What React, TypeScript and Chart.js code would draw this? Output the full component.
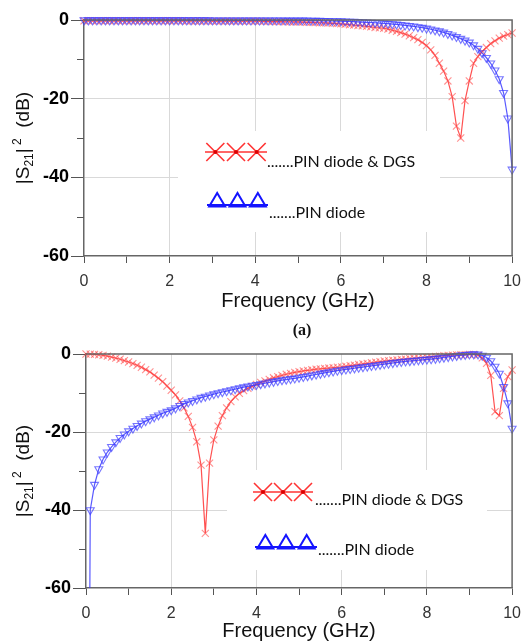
import React, { useEffect, useRef } from 'react';
import { Chart, registerables } from 'chart.js';
Chart.register(...registerables);

// Frequency sweep (GHz)
const FREQ = [
  0.0, 0.1, 0.2, 0.3, 0.4, 0.5, 0.6, 0.7, 0.8, 0.9,
  1.0, 1.1, 1.2, 1.3, 1.4, 1.5, 1.6, 1.7, 1.8, 1.9,
  2.0, 2.1, 2.2, 2.3, 2.4, 2.5, 2.6, 2.7, 2.8, 2.9,
  3.0, 3.1, 3.2, 3.3, 3.4, 3.5, 3.6, 3.7, 3.8, 3.9,
  4.0, 4.1, 4.2, 4.3, 4.4, 4.5, 4.6, 4.7, 4.8, 4.9,
  5.0, 5.1, 5.2, 5.3, 5.4, 5.5, 5.6, 5.7, 5.8, 5.9,
  6.0, 6.1, 6.2, 6.3, 6.4, 6.5, 6.6, 6.7, 6.8, 6.9,
  7.0, 7.1, 7.2, 7.3, 7.4, 7.5, 7.6, 7.7, 7.8, 7.9,
  8.0, 8.1, 8.2, 8.3, 8.4, 8.5, 8.6, 8.7, 8.8, 8.9,
  9.0, 9.1, 9.2, 9.3, 9.4, 9.5, 9.6, 9.7, 9.8, 9.9,
  10.0,
];

// (a) top chart: |S21|^2 (dB)
const TOP_PIN_DGS = [
  -0.2, -0.2, -0.2, -0.2, -0.2, -0.2, -0.2, -0.2, -0.2, -0.2,
  -0.2, -0.2, -0.2, -0.2, -0.2, -0.2, -0.2, -0.2, -0.2, -0.2,
  -0.2, -0.2, -0.2, -0.2, -0.25, -0.25, -0.25, -0.25, -0.25, -0.25,
  -0.3, -0.3, -0.3, -0.3, -0.3, -0.3, -0.3, -0.3, -0.3, -0.3,
  -0.3, -0.3, -0.35, -0.35, -0.4, -0.4, -0.4, -0.45, -0.45, -0.5,
  -0.5, -0.55, -0.6, -0.6, -0.65, -0.7, -0.75, -0.8, -0.85, -0.9,
  -1.0, -1.1, -1.2, -1.3, -1.4, -1.5, -1.6, -1.75, -1.9, -2.0,
  -2.1, -2.3, -2.6, -2.9, -3.2, -3.6, -4.0, -4.5, -5.0, -5.7,
  -6.5, -7.6, -9.0, -11.0, -13.0, -15.5, -19.5, -27.0, -30.0, -20.5,
  -15.5, -11.0, -9.3, -8.0, -7.0, -6.0, -5.3, -4.6, -4.1, -3.7,
  -3.3,
];
const TOP_PIN = [
  -0.05, -0.05, -0.05, -0.05, -0.05, -0.05, -0.05, -0.05, -0.05, -0.05,
  -0.05, -0.05, -0.05, -0.05, -0.05, -0.05, -0.05, -0.05, -0.05, -0.05,
  -0.05, -0.05, -0.05, -0.05, -0.05, -0.05, -0.05, -0.05, -0.05, -0.05,
  -0.06, -0.06, -0.06, -0.06, -0.07, -0.07, -0.07, -0.07, -0.08, -0.08,
  -0.08, -0.08, -0.08, -0.08, -0.09, -0.09, -0.09, -0.1, -0.1, -0.1,
  -0.1, -0.1, -0.12, -0.14, -0.16, -0.18, -0.2, -0.22, -0.25, -0.28,
  -0.3, -0.34, -0.38, -0.42, -0.47, -0.52, -0.58, -0.64, -0.7, -0.78,
  -0.86, -0.94, -1.03, -1.13, -1.24, -1.35, -1.48, -1.62, -1.78, -1.95,
  -2.15, -2.35, -2.6, -2.85, -3.15, -3.5, -3.9, -4.3, -4.75, -5.2,
  -5.7, -6.4, -7.3, -8.4, -9.6, -11.0, -12.8, -15.0, -18.5, -25.0,
  -38.0,
];

// bottom chart: |S21|^2 (dB)
const BOT_PIN_DGS = [
  0.0, -0.05, -0.1, -0.2, -0.35, -0.55, -0.8, -1.05, -1.35, -1.7,
  -2.05, -2.45, -2.9, -3.4, -4.0, -4.6, -5.4, -6.2, -7.1, -8.2,
  -9.3, -10.5, -12.0, -13.8, -16.0, -18.8, -22.5, -28.5, -46.0, -28.0,
  -22.0, -18.5, -15.8, -13.8, -12.2, -11.0, -10.1, -9.4, -8.8, -8.3,
  -7.8, -7.3, -6.9, -6.5, -6.1, -5.8, -5.5, -5.2, -4.95, -4.7,
  -4.5, -4.35, -4.2, -4.05, -3.9, -3.8, -3.7, -3.6, -3.5, -3.4,
  -3.3, -3.15, -3.0, -2.85, -2.7, -2.55, -2.4, -2.25, -2.1, -1.95,
  -1.8, -1.7, -1.6, -1.5, -1.4, -1.3, -1.2, -1.1, -1.0, -0.9,
  -0.85, -0.75, -0.65, -0.55, -0.45, -0.35, -0.3, -0.25, -0.2, -0.15,
  -0.1, -0.1, -0.3, -1.0, -2.4, -5.5, -14.8, -15.8, -8.8, -5.8,
  -4.1,
];
const BOT_PIN = [
  -250.0, -40.0, -33.5, -29.5, -27.0, -25.2, -23.8, -22.6, -21.5, -20.6,
  -19.8, -19.1, -18.4, -17.8, -17.2, -16.7, -16.2, -15.7, -15.2, -14.8,
  -14.4, -13.9, -13.3, -12.8, -12.4, -12.0, -11.6, -11.2, -10.9, -10.6,
  -10.3, -10.0, -9.75, -9.5, -9.25, -9.0, -8.75, -8.5, -8.3, -8.1,
  -7.9, -7.7, -7.5, -7.3, -7.1, -6.9, -6.7, -6.55, -6.4, -6.25,
  -6.05, -5.85, -5.65, -5.45, -5.25, -5.05, -4.85, -4.65, -4.45, -4.25,
  -4.1, -3.95, -3.8, -3.65, -3.5, -3.35, -3.2, -3.05, -2.9, -2.75,
  -2.6, -2.45, -2.3, -2.15, -2.0, -1.9, -1.8, -1.7, -1.6, -1.5,
  -1.4, -1.3, -1.2, -1.05, -0.9, -0.75, -0.6, -0.45, -0.3, -0.2,
  -0.1, -0.05, -0.1, -0.4, -0.9, -1.8, -3.2, -5.0, -8.4, -12.6,
  -19.1,
];

const X_GRID = [2, 4, 6, 8];
const Y_GRID = [-20, -40];
const Y_MINOR = [-10, -30, -50];
const LABEL_DGS = '.......PIN diode & DGS';
const LABEL_PIN = '.......PIN diode';
const X_TITLE = 'Frequency (GHz)';

const SANS = '"Liberation Sans", Arial, sans-serif';
const LEG_FONT = '16px Lato, "Open Sans", sans-serif';

const RED_LINE = 'rgba(255,50,50,0.85)';
const RED_PT = 'rgba(255,70,70,0.6)';
const BLUE_LINE = 'rgba(60,60,255,0.85)';
const BLUE_PT = 'rgba(60,60,255,0.7)';

type Leg = { x0: number; x1: number; y: number; tx: number; ty: number; text: string };
type Decor = {
  box: [number, number, number, number];
  red: Leg;
  blue: Leg;
  yTitleX: number;
};

const decorPlugin = {
  id: 'decor',
  beforeDatasetsDraw(chart: any, _a: any, opts: Decor) {
    const ctx = chart.ctx;
    const [x1, y1, x2, y2] = opts.box;
    ctx.save();
    ctx.fillStyle = '#ffffff';
    ctx.fillRect(x1, y1, x2 - x1, y2 - y1);
    ctx.restore();
  },
  afterDraw(chart: any, _a: any, opts: Decor) {
    const ctx = chart.ctx;
    const ca = chart.chartArea;
    const ys = chart.scales.y;
    ctx.save();
    ctx.strokeStyle = '#666';
    ctx.lineWidth = 1.5;
    ctx.beginPath();
    ctx.moveTo(ca.left, ca.top);
    ctx.lineTo(ca.right, ca.top);
    ctx.lineTo(ca.right, ca.bottom);
    ctx.stroke();
    ctx.lineWidth = 1;
    ctx.strokeStyle = '#555';
    Y_MINOR.forEach((v) => {
      const py = Math.round(ys.getPixelForValue(v)) + 0.5;
      ctx.beginPath();
      ctx.moveTo(ca.left - 7, py);
      ctx.lineTo(ca.left, py);
      ctx.stroke();
    });
    const big = `19px ${SANS}`;
    const small = `12px ${SANS}`;
    const parts = [
      { t: '|S', f: big, dy: 0 },
      { t: '21', f: small, dy: 4 },
      { t: '|', f: big, dy: 0 },
      { t: ' 2', f: small, dy: -8 },
      { t: '  (dB)', f: big, dy: 0 },
    ];
    let total = 0;
    const widths = parts.map((p) => {
      ctx.font = p.f;
      const w = ctx.measureText(p.t).width;
      total += w;
      return w;
    });
    const cy = (ca.top + ca.bottom) / 2;
    ctx.translate(opts.yTitleX, cy);
    ctx.rotate(-Math.PI / 2);
    ctx.fillStyle = '#111';
    ctx.textBaseline = 'alphabetic';
    ctx.textAlign = 'left';
    let px = -total / 2;
    parts.forEach((p, i) => {
      ctx.font = p.f;
      ctx.fillText(p.t, px, p.dy);
      px += widths[i];
    });
    ctx.setTransform(1, 0, 0, 1, 0, 0);
    ctx.restore();

    ctx.save();
    const r = opts.red;
    ctx.strokeStyle = 'rgba(255,40,40,0.95)';
    ctx.lineWidth = 1.6;
    ctx.beginPath();
    ctx.moveTo(r.x0, r.y);
    ctx.lineTo(r.x1, r.y);
    ctx.stroke();
    const step = (r.x1 - r.x0) / 3;
    for (let i = 0; i < 3; i++) {
      const cx = r.x0 + step * (i + 0.5);
      ctx.beginPath();
      ctx.moveTo(cx - 9, r.y - 9);
      ctx.lineTo(cx + 9, r.y + 9);
      ctx.moveTo(cx - 9, r.y + 9);
      ctx.lineTo(cx + 9, r.y - 9);
      ctx.stroke();
      ctx.fillStyle = 'rgba(220,0,0,1)';
      ctx.beginPath();
      ctx.arc(cx, r.y, 2, 0, Math.PI * 2);
      ctx.fill();
    }
    const b = opts.blue;
    ctx.strokeStyle = 'rgba(20,20,255,1)';
    ctx.lineWidth = 2;
    ctx.beginPath();
    ctx.moveTo(b.x0, b.y);
    ctx.lineTo(b.x1, b.y);
    ctx.stroke();
    const bstep = (b.x1 - b.x0) / 3;
    for (let i = 0; i < 3; i++) {
      const cx = b.x0 + bstep * (i + 0.5);
      ctx.beginPath();
      ctx.moveTo(cx - 8, b.y + 1.5);
      ctx.lineTo(cx, b.y - 12);
      ctx.lineTo(cx + 8, b.y + 1.5);
      ctx.closePath();
      ctx.stroke();
    }
    ctx.fillStyle = '#111';
    ctx.font = LEG_FONT;
    ctx.textBaseline = 'alphabetic';
    ctx.textAlign = 'left';
    ctx.fillText(r.text, r.tx, r.ty);
    ctx.fillText(b.text, b.tx, b.ty);
    ctx.restore();
  },
};

function buildChart(
  canvas: HTMLCanvasElement,
  dgs: number[],
  pin: number[],
  pad: { top: number; right: number },
  yWidth: number,
  xHeight: number,
  titlePadBottom: number,
  decor: Decor
) {
  const clip = { left: 6, top: 6, right: 8, bottom: 0 };
  return new Chart(canvas, {
    type: 'line',
    data: {
      datasets: [
        {
          label: 'PIN diode',
          data: FREQ.map((f, i) => ({ x: f, y: pin[i] })),
          borderColor: BLUE_LINE,
          borderWidth: 1.2,
          pointStyle: 'triangle',
          pointRotation: 180,
          pointRadius: 4.6,
          pointBorderWidth: 1.1,
          pointBorderColor: BLUE_PT,
          pointBackgroundColor: 'rgba(255,255,255,0)',
          tension: 0,
          clip,
        } as any,
        {
          label: 'PIN diode & DGS',
          data: FREQ.map((f, i) => ({ x: f, y: dgs[i] })),
          borderColor: RED_LINE,
          borderWidth: 1.2,
          pointStyle: 'crossRot',
          pointRadius: 5,
          pointBorderWidth: 1.1,
          pointBorderColor: RED_PT,
          pointBackgroundColor: 'rgba(255,255,255,0)',
          tension: 0,
          clip,
        } as any,
      ],
    },
    options: {
      responsive: false,
      animation: false,
      devicePixelRatio: 1,
      layout: { padding: { top: pad.top, right: pad.right, left: 0, bottom: 0 } },
      plugins: {
        legend: { display: false },
        tooltip: { enabled: false },
        decor: decor,
      } as any,
      scales: {
        x: {
          type: 'linear',
          min: 0,
          max: 10,
          ticks: {
            stepSize: 1,
            autoSkip: false,
            maxRotation: 0,
            padding: 9,
            color: '#333',
            font: { size: 16, family: SANS },
            callback: (v: any) => (Number(v) % 2 === 0 ? String(v) : ''),
          },
          grid: {
            color: (c: any) => (c.tick && X_GRID.includes(c.tick.value) ? '#d9d9d9' : 'rgba(0,0,0,0)'),
            tickColor: '#555',
            tickLength: 7,
            lineWidth: 1,
          },
          border: { color: '#666', width: 1.5 },
          title: {
            display: true,
            text: X_TITLE,
            color: '#111',
            font: { size: 20, family: SANS },
            padding: { top: 0, bottom: titlePadBottom },
          },
          afterFit: (s: any) => {
            s.height = xHeight;
          },
        },
        y: {
          type: 'linear',
          min: -60,
          max: 0,
          ticks: {
            stepSize: 10,
            padding: 2,
            color: '#000',
            font: { size: 18, weight: 'bold', family: SANS },
            callback: (v: any) => (Number(v) % 20 === 0 ? String(v) : ''),
          },
          grid: {
            color: (c: any) => (c.tick && Y_GRID.includes(c.tick.value) ? '#d9d9d9' : 'rgba(0,0,0,0)'),
            tickColor: (c: any) => (c.tick && c.tick.value % 20 === 0 ? '#555' : 'rgba(0,0,0,0)'),
            tickLength: 13,
            lineWidth: 1,
          },
          border: { color: '#666', width: 1.5 },
          afterFit: (s: any) => {
            s.width = yWidth;
          },
        },
      },
    } as any,
    plugins: [decorPlugin as any],
  });
}

export default function App() {
  const topRef = useRef<HTMLCanvasElement | null>(null);
  const botRef = useRef<HTMLCanvasElement | null>(null);

  useEffect(() => {
    if (!topRef.current || !botRef.current) return;
    const c1 = buildChart(topRef.current, TOP_PIN_DGS, TOP_PIN, { top: 20, right: 9 }, 84, 64, 7, {
      box: [178, 131, 440, 232],
      red: { x0: 205, x1: 267, y: 152, tx: 267, ty: 167, text: LABEL_DGS },
      blue: { x0: 207, x1: 268, y: 205, tx: 269, ty: 218, text: LABEL_PIN },
      yTitleX: 29,
    });
    const c2 = buildChart(botRef.current, BOT_PIN_DGS, BOT_PIN, { top: 34, right: 9 }, 86, 55, 0, {
      box: [227, 150, 487, 250],
      red: { x0: 253, x1: 313, y: 172, tx: 315, ty: 185, text: LABEL_DGS },
      blue: { x0: 255, x1: 317, y: 227, tx: 318, ty: 235, text: LABEL_PIN },
      yTitleX: 29,
    });
    return () => {
      c1.destroy();
      c2.destroy();
    };
  }, []);

  return (
    <div style={{ position: 'absolute', left: 0, top: 0, width: 530, height: 643, background: '#fff', overflow: 'hidden' }}>
      <canvas ref={topRef} width={530} height={320} style={{ position: 'absolute', left: 0, top: 0, width: 530, height: 320 }} />
      <canvas ref={botRef} width={530} height={323} style={{ position: 'absolute', left: 0, top: 320, width: 530, height: 323 }} />
      <div
        style={{
          position: 'absolute',
          left: 282,
          top: 322,
          width: 40,
          textAlign: 'center',
          fontFamily: '"Liberation Serif", "Times New Roman", serif',
          fontWeight: 'bold',
          fontSize: 16,
          lineHeight: '16px',
          color: '#111',
        }}
      >
        (a)
      </div>
    </div>
  );
}
